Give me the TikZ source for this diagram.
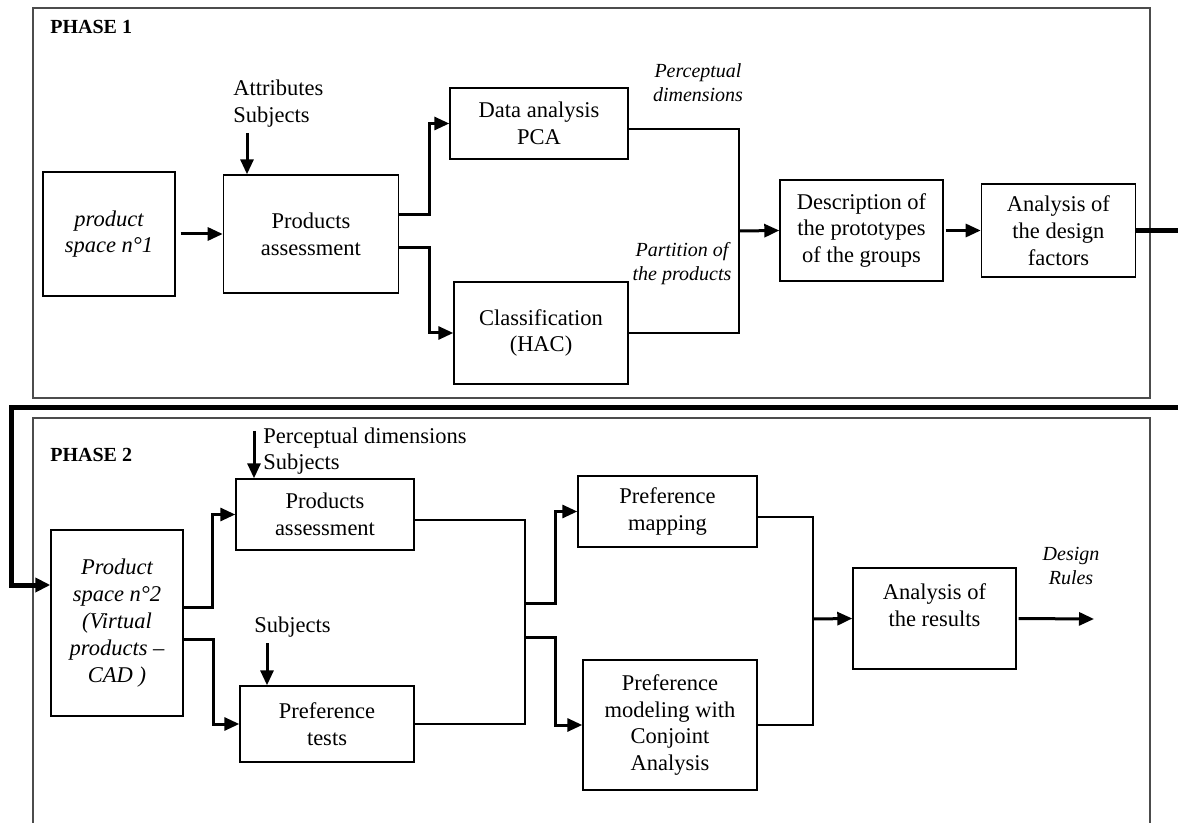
\documentclass[tikz,border=0pt]{standalone}
\usepackage{fontspec}
\setmainfont{Liberation Serif}
\usetikzlibrary{positioning}
\usetikzlibrary{arrows.meta}
\tikzset{
    box/.style={
        draw,
        line width=0.7pt,
        align=center,
        inner sep=0pt,
        font=\fontsize{11.25}{13.4}\selectfont
    },
    itbox/.style={
        box,
        font=\fontsize{11.25}{13.4}\selectfont\itshape
    },
    note/.style={
        align=left,
        inner sep=0pt,
        font=\fontsize{11.25}{13.4}\selectfont
    },
    flow/.style={
        align=center,
        inner sep=0pt,
        font=\fontsize{10}{12}\selectfont\itshape
    },
    title/.style={
        anchor=west,
        inner sep=0pt,
        font=\fontsize{10}{12}\selectfont\bfseries
    },
    phase/.style={
        draw=black!70,
        line width=0.6pt
    },
    wire/.style={
        line width=0.65pt
    },
    arr/.style={
        ->,>={Triangle[length=7.5pt,width=6.5pt]},
        line width=1.5pt
    },
    link/.style={
        ->,>={Triangle[length=7.5pt,width=7pt]},
        line width=2.5pt
    }
}

\begin{document}
\begin{tikzpicture}[x=0.5pt, y=-0.5pt]
            \useasboundingbox (0,0) rectangle (1178,823);

            % phase 1
            \draw[phase] (33,8) rectangle (1150,398);
            \node[title] (ph1) at (50,27) {PHASE 1};
            \node[itbox, minimum width=66pt, minimum height=62pt] (ps1) at (109,234) {product\\space n°1};
            \node[box, minimum width=87.5pt, minimum height=59pt, right=23.5pt of ps1] (pa1) {Products\\assessment};
            \node[box, minimum width=89pt, minimum height=35.5pt] (da) at (539,123.5) {Data analysis\\PCA};
            \node[box, minimum width=87pt, minimum height=51pt] (hac) at (541,333) {Classification\\(HAC)};
            \node[box, minimum width=81.5pt, minimum height=50.5pt] (desc) at (861.5,230.5) {Description of\\the prototypes\\of the groups};
            \node[box, minimum width=77pt, minimum height=46.5pt, right=18.5pt of desc] (adf) {Analysis of\\the design\\factors};
            \node[note, anchor=west] (attr1) at (233,103.5) {Attributes\\Subjects};
            \node[flow] (percdim) at (698,83) {Perceptual\\dimensions};
            \node[flow] (part) at (682,264) {Partition of\\the products};
            \coordinate (in1) at (247,133);
            \coordinate (m1) at (739,231);

            \draw[arr] (in1) -- (in1 |- pa1.north);
            \draw[arr, shorten <=2.5pt] (ps1.east) -- (pa1.west);
            \draw[arr] ([yshift=9.5pt]pa1.east) -- ++(30,0) |- (da.west);
            \draw[arr] ([yshift=-7pt]pa1.east) -- ++(30,0) |- (hac.west);
            \draw[wire] ([yshift=-2.75pt]da.east) -| (m1) |- (hac.east);
            \draw[arr] (m1) -- (desc.west);
            \draw[arr, shorten <=1pt] (desc.east) -- (adf.west);

            % phase 2
            \draw[phase] (33,418) rectangle (1150,840);
            \node[title] (ph2) at (50,455) {PHASE 2};
            \node[itbox, minimum width=66pt, minimum height=93pt] (ps2) at (117,623) {Product\\space n°2\\(Virtual\\products --\\CAD )};
            \node[box, minimum width=89pt, minimum height=35.5pt] (pa2) at (325,514.5) {Products\\assessment};
            \node[box, minimum width=87pt, minimum height=38pt] (pt) at (327,724) {Preference\\tests};
            \node[box, minimum width=89.5pt, minimum height=35.5pt] (pm) at (667.5,511.5) {Preference\\mapping};
            \node[box, minimum width=87pt, minimum height=65pt] (pmc) at (670,725) {Preference\\modeling with\\Conjoint\\Analysis};
            \node[box, minimum width=81.5pt, minimum height=50.5pt] (res) at (934.5,618.5) {Analysis of\\the results\\\mbox{}};
            \node[note, anchor=west] (perc2) at (263,451) {Perceptual dimensions\\Subjects};
            \node[note, anchor=west] (subj) at (254,627) {Subjects};
            \node[flow] (rules) at (1071,566) {Design\\Rules};
            \coordinate (in2) at (254,431);
            \coordinate (in3) at (267,643);
            \coordinate (m2) at (525,620);
            \coordinate (m3) at (813,619);
            \coordinate (out) at (1094,619);

            \draw[arr] (in2) -- (in2 |- pa2.north);
            \draw[arr] (in3) -- (in3 |- pt.north);
            \draw[arr] ([yshift=8pt]ps2.east) -- ++(29,0) |- (pa2.west);
            \draw[arr] ([yshift=-8pt]ps2.east) -- ++(30,0) |- (pt.west);
            \draw[wire] ([yshift=-2.75pt]pa2.east) -| (m2) |- (pt.east);
            \draw[arr] ([yshift=8.5pt]m2) -- ++(30,0) |- (pm.west);
            \draw[arr] ([yshift=-8.5pt]m2) -- ++(30,0) |- (pmc.west);
            \draw[wire] ([yshift=-2.75pt]pm.east) -| (m3) |- (pmc.east);
            \draw[arr] (m3) -- (res.west);
            \draw[arr, shorten <=1pt] (res.east) -- (out);

            % link between the phases
            \coordinate (turnR) at (1200,408);
            \coordinate (turnL) at (11,408);
            \draw[link] (adf.east) -| (turnR) -- (turnL) |- ([yshift=19pt]ps2.west);
        \end{tikzpicture}
\end{document}
